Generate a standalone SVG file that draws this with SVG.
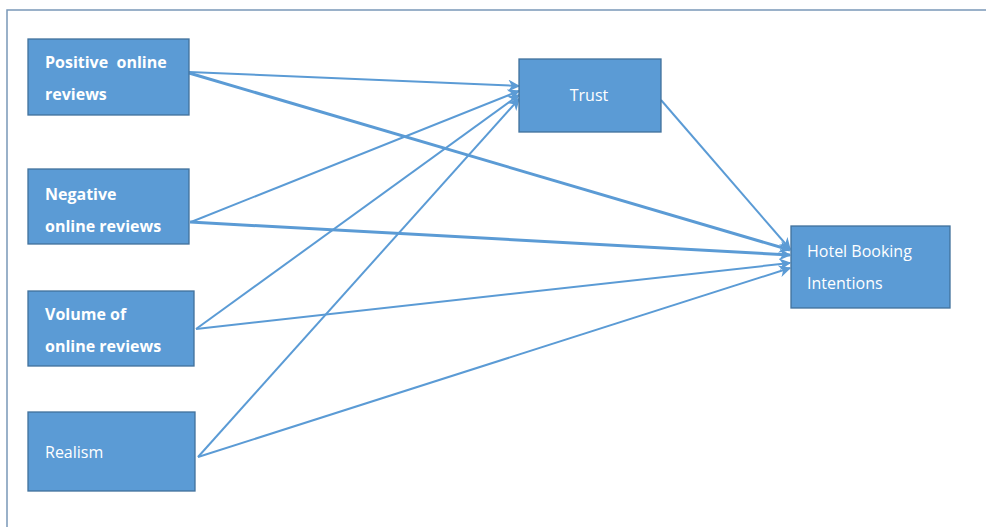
<svg xmlns="http://www.w3.org/2000/svg" width="986" height="527" viewBox="0 0 986 527">
<defs>
<style>
.box{fill:#5B9BD5;stroke:#41719C;stroke-width:1.3}
.lbl{fill:#ffffff;font-family:"Open Sans","Liberation Sans",sans-serif;font-size:16px}
.c{fill:none;stroke:#5B9BD5;stroke-width:2}
.t{stroke-width:3}
</style>
<marker id="ah" viewBox="0 0 10 10" refX="9" refY="5" markerWidth="6" markerHeight="6" markerUnits="userSpaceOnUse" orient="auto">
<path d="M0,0 L10,5 L0,10 L3,5 Z" fill="#5B9BD5"/>
</marker>
<marker id="ah2" viewBox="0 0 10 10" refX="9" refY="5" markerWidth="12" markerHeight="12" markerUnits="userSpaceOnUse" orient="auto">
<path d="M0,0 L10,5 L0,10 L3,5 Z" fill="#5B9BD5"/>
</marker>
</defs>
<rect width="986" height="527" fill="#ffffff"/>
<path d="M7,527 L7,10 L986,10" fill="none" stroke="#7A98B8" stroke-width="1.5"/>
<g id="connectors">
<line class="c" x1="189" y1="72" x2="519" y2="86" marker-end="url(#ah2)"/>
<line class="c t" x1="189" y1="73" x2="790" y2="250" marker-end="url(#ah2)"/>
<line class="c" x1="191" y1="222" x2="519" y2="91" marker-end="url(#ah2)"/>
<line class="c t" x1="190" y1="222" x2="790" y2="255" marker-end="url(#ah2)"/>
<line class="c" x1="196" y1="329" x2="519" y2="95" marker-end="url(#ah2)"/>
<line class="c" x1="196" y1="329" x2="790" y2="263" marker-end="url(#ah2)"/>
<line class="c" x1="198" y1="457" x2="519" y2="99" marker-end="url(#ah2)"/>
<line class="c" x1="198" y1="457" x2="790" y2="268" marker-end="url(#ah2)"/>
<line class="c" x1="661" y1="100" x2="790" y2="249" marker-end="url(#ah2)"/>
</g>
<g id="positive">
<rect class="box" x="28" y="39" width="161" height="76"/>
<text class="lbl" x="45" y="68" font-weight="bold" xml:space="preserve">Positive  online</text>
<text class="lbl" x="45" y="100" font-weight="bold">reviews</text>
</g>
<g id="negative">
<rect class="box" x="28" y="169" width="161" height="75"/>
<text class="lbl" x="45" y="200" font-weight="bold">Negative</text>
<text class="lbl" x="45" y="232" font-weight="bold">online reviews</text>
</g>
<g id="volume">
<rect class="box" x="28" y="291" width="166" height="75"/>
<text class="lbl" x="45" y="320" font-weight="bold">Volume of</text>
<text class="lbl" x="45" y="352" font-weight="bold">online reviews</text>
</g>
<g id="realism">
<rect class="box" x="28" y="412" width="167" height="79"/>
<text class="lbl" x="45" y="458">Realism</text>
</g>
<g id="trust">
<rect class="box" x="519" y="59" width="142" height="73"/>
<text class="lbl" x="589" y="101" text-anchor="middle">Trust</text>
</g>
<g id="hotel">
<rect class="box" x="791" y="226" width="159" height="82"/>
<text class="lbl" x="807" y="257">Hotel Booking</text>
<text class="lbl" x="807" y="289">Intentions</text>
</g>
</svg>
